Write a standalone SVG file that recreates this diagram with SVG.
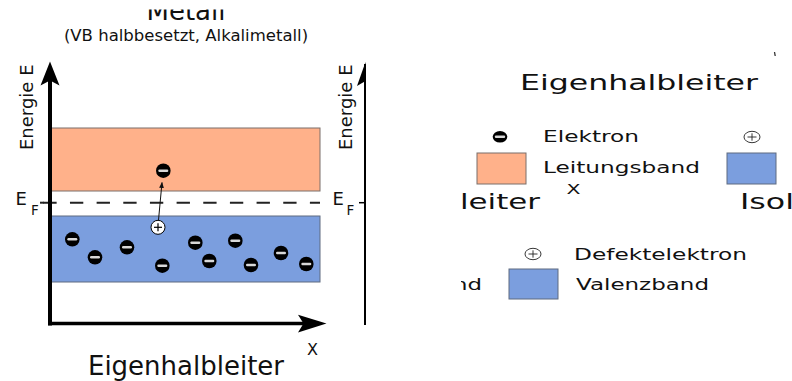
<svg xmlns="http://www.w3.org/2000/svg" width="792" height="381" viewBox="0 0 792 381">
<style>
text{font-family:"DejaVu Sans","Liberation Sans",sans-serif;fill:#111}
.cb{fill:#ffb18a;stroke:#7a6f6a;stroke-width:1}
.vb{fill:#7b9ede;stroke:#5f6b80;stroke-width:1}
.el{fill:#000}
.mi{stroke:#d8d8d8;stroke-width:2.4;stroke-linecap:round}
.hole{fill:#fff;stroke:#000;stroke-width:1}
.pl{stroke:#000;stroke-width:1.2}
.ax{stroke:#000;fill:none}
</style>
<defs>
<marker id="ah" viewBox="0 0 10 10" refX="9" refY="5" markerWidth="6" markerHeight="6" orient="auto" markerUnits="userSpaceOnUse">
<path d="M0,1 L10,5 L0,9 Z" fill="#111"/>
</marker>
<g id="e"><circle r="7.3" class="el"/><line x1="-3.8" y1="0" x2="3.8" y2="0" class="mi"/></g>
<g id="h"><circle r="7" class="hole"/><line x1="-4" y1="0" x2="4" y2="0" class="pl"/><line x1="0" y1="-4" x2="0" y2="4" class="pl"/></g>
<clipPath id="cl"><rect x="461" y="270" width="40" height="30"/></clipPath>
<clipPath id="ct"><rect x="100" y="9.5" width="180" height="20"/></clipPath>
</defs>

<!-- top titles -->
<text x="186" y="20" font-size="26" text-anchor="middle" clip-path="url(#ct)">Metall</text>
<text x="186" y="41" font-size="16.5" text-anchor="middle">(VB halbbesetzt, Alkalimetall)</text>

<!-- left diagram -->
<g id="bands">
<rect id="leitungsband" x="50" y="128" width="270" height="63" class="cb"/>
<rect id="valenzband" x="50" y="216" width="270" height="66" class="vb"/>
</g>
<g id="fermi">
<line x1="43.3" y1="202.7" x2="320" y2="202.7" stroke="#222" stroke-width="2" stroke-dasharray="13.33 13.33"/>
<line x1="40" y1="202.7" x2="44" y2="202.7" stroke="#222" stroke-width="2"/>
</g>
<g id="axes-left">
<line x1="50" y1="80" x2="50" y2="325.5" class="ax" stroke-width="4"/>
<line x1="48" y1="323.6" x2="304" y2="323.6" class="ax" stroke-width="3.5"/>
<path d="M50,61.5 L40.5,85.5 L50,80.5 L59.5,85.5 Z" fill="#000"/>
<path d="M326.5,323.6 L298,314.8 L303.5,323.6 L298,332.4 Z" fill="#000"/>
</g>
<text transform="translate(33,150) rotate(-90)" font-size="18">Energie E</text>
<text x="15.5" y="205" font-size="18">E</text>
<text x="31" y="215" font-size="13.5">F</text>
<text x="307" y="355" font-size="16">X</text>
<text x="186" y="375" font-size="26" text-anchor="middle">Eigenhalbleiter</text>

<g id="electrons">
<use href="#e" x="163.3" y="170.7"/>
<use href="#e" x="72.3" y="239.3"/>
<use href="#e" x="95" y="257.3"/>
<use href="#e" x="127" y="247.3"/>
<use href="#e" x="162.3" y="265.7"/>
<use href="#e" x="195.3" y="242.7"/>
<use href="#e" x="209.3" y="261"/>
<use href="#e" x="235.3" y="240.7"/>
<use href="#e" x="251" y="265"/>
<use href="#e" x="281" y="253"/>
<use href="#e" x="306.3" y="264"/>
</g>
<g id="hole"><use href="#h" x="158" y="227.3"/></g>
<g id="connectors">
<line x1="158.5" y1="220" x2="162" y2="182.5" stroke="#111" stroke-width="1" marker-end="url(#ah)"/>
</g>

<!-- right axis fragment -->
<g id="axis-right">
<line x1="365" y1="64" x2="365" y2="325" stroke="#000" stroke-width="2"/>
<path d="M365.5,62 L357,86 L365.5,81 Z" fill="#000"/>
<line x1="359" y1="202.7" x2="365" y2="202.7" stroke="#000" stroke-width="1.5"/>
</g>
<text transform="translate(352,150) rotate(-90)" font-size="18">Energie E</text>
<text x="332.5" y="205" font-size="18">E</text>
<text x="346.5" y="215" font-size="13.5">F</text>

<path d="M774.5,52 L775.2,56" stroke="#333" stroke-width="1.3"/>

<!-- right legend -->
<text x="520" y="90" font-size="20.5" textLength="238" lengthAdjust="spacingAndGlyphs">Eigenhalbleiter</text>
<g id="legend-elektron">
<ellipse cx="500" cy="136.8" rx="7.3" ry="5.8" class="el"/>
<line x1="496" y1="136.8" x2="504" y2="136.8" class="mi" stroke-width="2"/>
<text x="543" y="142" font-size="15" textLength="96" lengthAdjust="spacingAndGlyphs">Elektron</text>
</g>
<g id="legend-loch-1">
<ellipse cx="752" cy="137" rx="8" ry="5.7" fill="#fff" stroke="#222" stroke-width="0.9"/>
<line x1="747.5" y1="137" x2="756.5" y2="137" stroke="#222" stroke-width="0.9"/>
<line x1="752" y1="133.3" x2="752" y2="140.7" stroke="#222" stroke-width="0.9"/>
</g>
<g id="legend-leitungsband">
<rect x="477" y="153" width="49" height="31" class="cb"/>
<text x="543" y="172.5" font-size="15" textLength="157" lengthAdjust="spacingAndGlyphs">Leitungsband</text>
</g>
<g id="legend-valenz-1">
<rect x="727" y="153" width="49" height="31" class="vb"/>
</g>
<text x="566.5" y="193.5" font-size="14" textLength="14" lengthAdjust="spacingAndGlyphs">X</text>
<text x="460" y="209" font-size="21" textLength="80" lengthAdjust="spacingAndGlyphs">leiter</text>
<text x="740" y="209" font-size="21" textLength="54" lengthAdjust="spacingAndGlyphs">Isol</text>
<g id="legend-defekt">
<ellipse cx="533" cy="254" rx="8" ry="5.7" fill="#fff" stroke="#222" stroke-width="0.9"/>
<line x1="528.5" y1="254" x2="537.5" y2="254" stroke="#222" stroke-width="0.9"/>
<line x1="533" y1="250.3" x2="533" y2="257.7" stroke="#222" stroke-width="0.9"/>
<text x="574" y="260" font-size="15" textLength="173" lengthAdjust="spacingAndGlyphs">Defektelektron</text>
</g>
<g id="legend-valenzband">
<text x="453" y="289.5" font-size="15" textLength="29" lengthAdjust="spacingAndGlyphs" clip-path="url(#cl)">nd</text>
<rect x="509" y="269" width="49" height="30" class="vb"/>
<text x="576" y="290.3" font-size="15" textLength="133" lengthAdjust="spacingAndGlyphs">Valenzband</text>
</g>
</svg>
